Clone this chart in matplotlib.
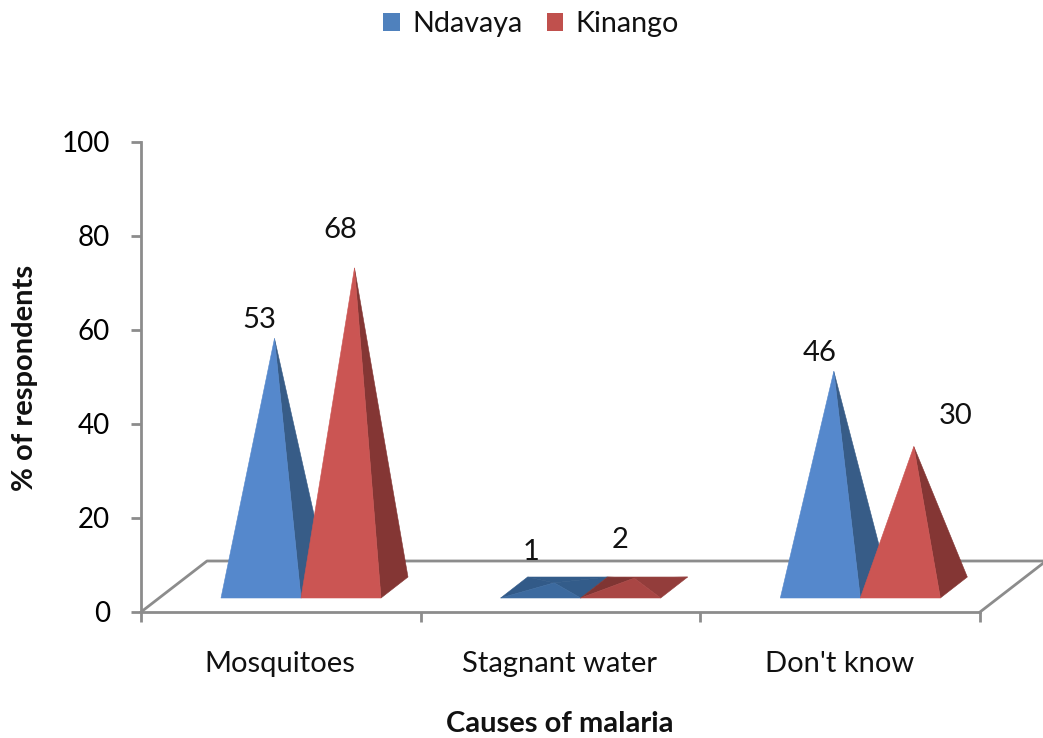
import matplotlib
matplotlib.use('Agg')
import matplotlib.pyplot as plt
from matplotlib.patches import Patch, Polygon

plt.rcParams['font.family'] = ['Lato', 'DejaVu Sans']

categories = ['Mosquitoes', 'Stagnant water', "Don't know"]
series_names = ['Ndavaya', 'Kinango']
ndavaya = [53, 1, 46]
kinango = [68, 2, 30]
y_ticks = [0, 20, 40, 60, 80, 100]

W, H = 1043, 738
AX_L, AX_R, AX_T, AX_B = 141, 980, 142, 612
SLOT_PX = (AX_R - AX_L) / 3
UNIT_PX = (AX_B - AX_T) / 100

GREY = '#8c8c8c'
# front, right side, and the faces seen when a pyramid is almost flat
BLUE = {'front': '#5588cc', 'side': '#375c87', 'flat': '#3c6a9f', 'back': '#335c8a', 'left': '#325a88'}
RED = {'front': '#cb5553', 'side': '#843634', 'flat': '#a94644', 'back': '#933d3b', 'left': '#7f3533'}

# label offsets from the apex, pixels
label_offsets = {
    'Ndavaya': [(-15, 18), (-23, 31), (-14, 18)],
    'Kinango': [(-14, 38), (-14, 38), (42, 30)],
}


def xpx(px):
    return px / SLOT_PX


def ypx(px):
    return px / UNIT_PX


def face(ax, pts, color):
    # thin edge in the same colour hides the seams between faces
    ax.add_patch(Polygon(pts, fc=color, ec=color, lw=0.4, zorder=3))


def pyramid(ax, left, width, base, value, colors):
    dx, dy = xpx(27), ypx(21)
    fl = (left, base)
    fr = (left + width, base)
    br = (left + width + dx, base + dy)
    bl = (left + dx, base + dy)
    apex = (left + width / 2 + dx / 2, base + dy / 2 + value)
    flat = value < 5
    if flat:
        face(ax, [bl, br, apex], colors['back'])
        face(ax, [fl, bl, apex], colors['left'])
    face(ax, [fr, br, apex], colors['back' if flat else 'side'])
    face(ax, [fl, fr, apex], colors['flat' if flat else 'front'])
    return apex


def main():
    fig = plt.figure(figsize=(W / 100, H / 100), dpi=100)
    ax = fig.add_axes([AX_L / W, 1 - AX_B / H, (AX_R - AX_L) / W, (AX_B - AX_T) / H])
    ax.set_xlim(0, 3)
    ax.set_ylim(0, 100)

    for side in ['top', 'right']:
        ax.spines[side].set_visible(False)
    for side in ['left', 'bottom']:
        ax.spines[side].set_color(GREY)
        ax.spines[side].set_linewidth(2)

    # floor outline
    fx, fy = xpx(66), ypx(51)
    ax.plot([0, fx, 3 + fx], [0, fy, fy], color=GREY, lw=2, clip_on=False, zorder=1)
    ax.plot([3, 3 + fx], [0, fy], color=GREY, lw=2, clip_on=False, zorder=1)

    ax.set_yticks(y_ticks)
    ax.set_xticks([0, 1, 2, 3])
    ax.set_xticklabels([])
    ax.tick_params(axis='both', color=GREY, width=2, length=7.2, labelsize=20)
    ax.tick_params(axis='y', pad=15)
    for i, name in enumerate(categories):
        ax.annotate(name, (i + 0.5, 0), xytext=(-1, -52), xycoords='data', textcoords='offset pixels',
                    ha='center', va='center', fontsize=21, color='#111111')

    base = ypx(AX_B - 598)
    bar_w = xpx(80)
    first = xpx(80)
    for i in range(len(categories)):
        a1 = pyramid(ax, i + first, bar_w, base, ndavaya[i], BLUE)
        a2 = pyramid(ax, i + first + bar_w, bar_w, base, kinango[i], RED)
        for apex, value, name in [(a1, ndavaya[i], 'Ndavaya'), (a2, kinango[i], 'Kinango')]:
            ax.annotate(str(value), apex, xytext=label_offsets[name][i], textcoords='offset pixels',
                        ha='center', va='center', fontsize=21, color='#111111', zorder=5)

    fig.text(560 / W, 1 - 724 / H, 'Causes of malaria', ha='center', va='center',
             fontsize=21, fontweight='bold', color='#111111')
    fig.text(25 / W, 1 - 378 / H, '% of respondents', ha='center', va='center', rotation=90,
             fontsize=21, fontweight='bold', color='#111111')

    handles = [Patch(fc='#4f81bd', label=series_names[0]), Patch(fc='#c0504d', label=series_names[1])]
    fig.legend(handles=handles, ncol=2, loc='center', bbox_to_anchor=(531 / W, 1 - 24 / H), frameon=False,
               fontsize=20.6, handlelength=0.58, handleheight=0.58, handletextpad=0.42, columnspacing=0.85,
               labelcolor='#111111')

    fig.savefig('out.png', dpi=100)


if __name__ == '__main__':
    main()
